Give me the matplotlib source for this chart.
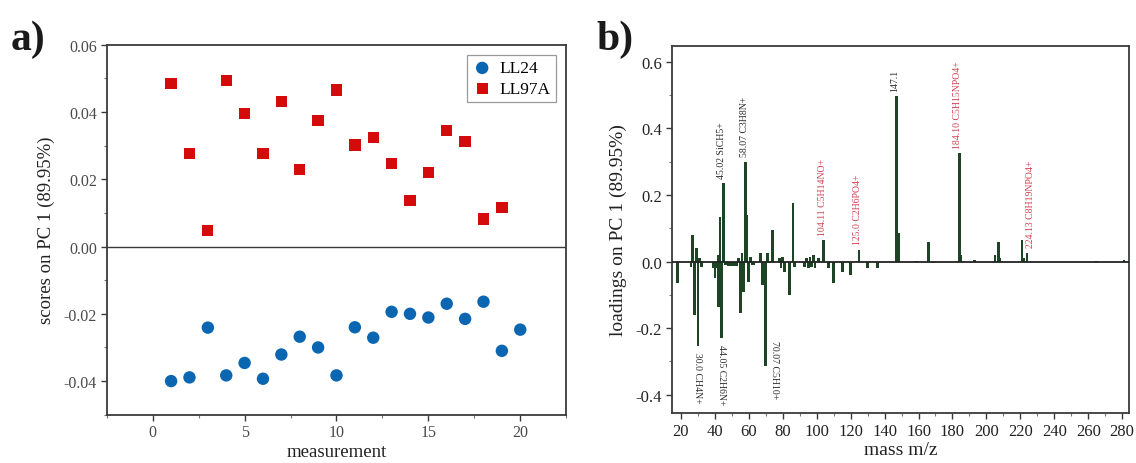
import matplotlib
matplotlib.use("Agg")
import matplotlib.pyplot as plt
from matplotlib.ticker import MultipleLocator, FormatStrFormatter

plt.rcParams['font.family'] = ['Liberation Serif', 'DejaVu Serif']

# ---------------- data: panel a ----------------
meas_ll24 = list(range(1, 21))
scores_ll24 = [-0.0400, -0.0389, -0.0241, -0.0383, -0.0346, -0.0393, -0.0321,
               -0.0268, -0.0300, -0.0383, -0.0240, -0.0271, -0.0194, -0.0200,
               -0.0211, -0.0170, -0.0215, -0.0164, -0.0310, -0.0247]
meas_ll97a = list(range(1, 20))
scores_ll97a = [0.0485, 0.0277, 0.0047, 0.0494, 0.0395, 0.0276, 0.0431, 0.0229,
                0.0375, 0.0465, 0.0302, 0.0324, 0.0247, 0.0137, 0.0220, 0.0345,
                0.0312, 0.0082, 0.0117]

# ---------------- data: panel b ----------------
mass = [18, 26, 27, 28, 29, 30, 31, 32, 39, 40, 41, 42, 42.3, 43, 44, 45, 46,
        47, 48, 49, 50, 51, 52, 53, 54, 55, 56, 57, 58, 59, 60, 61, 62, 63,
        67, 68, 69, 70, 71, 72, 74, 78, 79, 80, 81, 84, 86, 87,
        93, 94, 95, 96, 97, 98, 99, 101, 104, 107, 110, 115, 120, 125, 130,
        136, 147, 148, 159, 166, 169, 184, 185, 193, 205, 207, 208, 221, 222,
        224, 265, 281]
loading = [-0.063, -0.015, 0.080, -0.160, 0.042, -0.255, 0.012, -0.015,
           -0.020, -0.050, -0.020, -0.136, 0.020, 0.135, -0.230, 0.235, -0.010,
           -0.010, -0.012, -0.012, -0.012, -0.013, -0.012, -0.012, 0.010,
           -0.155, 0.025, -0.090, 0.300, 0.140, -0.060, 0.015, -0.010, -0.010,
           0.025, -0.070, -0.070, -0.314, 0.025, -0.005, 0.094, 0.012, -0.020,
           0.015, -0.030, -0.100, 0.175, -0.015,
           -0.015, 0.010, -0.020, 0.015, -0.015, 0.019, -0.020, 0.012, 0.064,
           -0.020, -0.065, -0.030, -0.040, 0.035, -0.020,
           -0.020, 0.497, 0.086, 0.003, 0.058, -0.003, 0.325, 0.020, 0.004,
           0.020, 0.058, 0.010, 0.064, 0.010, 0.027, 0.003, 0.005]

# peak annotations
label_mass = [30, 44, 45, 58, 70, 104, 125, 147, 184, 224]
label_text = ["30.0 CH4N+", "44.05 C2H6N+", "45.02 SiCH5+", "58.07 C3H8N+",
              "70.07 C5H10+", "104.11 C5H14NO+", "125.0 C2H6PO4+", "147.1",
              "184.10 C5H15NPO4+", "224.13 C8H19NPO4+"]
label_red = [False, False, False, False, False, True, True, False, True, True]

BLUE = '#0b66b2'
RED = '#d30b0b'
GREEN = '#1d4424'
SPINE = '#3a3a3a'
LBL_RED = '#d2404f'

fig = plt.figure(figsize=(11.36, 4.64), dpi=100)
axa = fig.add_axes([0.0940, 0.1040, 0.4044, 0.7975])
axb = fig.add_axes([0.5915, 0.1078, 0.4023, 0.791])

# ---------------- panel a ----------------
axa.axhline(0, color=SPINE, lw=1.0, zorder=1)
axa.scatter(meas_ll24, scores_ll24, s=80, marker='o', color=BLUE,
            edgecolors='none', label='LL24', zorder=3)
axa.scatter(meas_ll97a, scores_ll97a, s=66, marker='s', color=RED,
            edgecolors='none', label='LL97A', zorder=3)
axa.set_xlim(-2.5, 22.5)
axa.set_ylim(-0.05, 0.06)
axa.xaxis.set_major_locator(MultipleLocator(5))
axa.xaxis.set_minor_locator(MultipleLocator(2.5))
axa.yaxis.set_major_locator(MultipleLocator(0.02))
axa.yaxis.set_minor_locator(MultipleLocator(0.01))
axa.yaxis.set_major_formatter(FormatStrFormatter('%.2f'))
axa.set_xlabel('measurement', fontsize=13.5, color='#222222', labelpad=2)
axa.set_ylabel('scores on PC 1 (89.95%)', fontsize=13.5, color='#222222',
               labelpad=6)
leg = axa.legend(loc='upper right', fontsize=12.5, frameon=True,
                 fancybox=False, framealpha=1, edgecolor='#9a9a9a',
                 borderpad=0.3, handletextpad=0.4, labelspacing=0.25,
                 borderaxespad=0.6, markerscale=1.0, handlelength=1.2)
leg.get_frame().set_linewidth(0.9)

# ---------------- panel b ----------------
axb.bar(mass, loading, width=1.6, color=GREEN, edgecolor='none', zorder=2)
axb.axhline(0, color='#222222', lw=1.3, zorder=3)
axb.set_xlim(14.7, 284)
axb.set_ylim(-0.455, 0.648)
axb.xaxis.set_major_locator(MultipleLocator(20))
axb.xaxis.set_minor_locator(MultipleLocator(10))
axb.yaxis.set_major_locator(MultipleLocator(0.2))
axb.yaxis.set_minor_locator(MultipleLocator(0.1))
axb.yaxis.set_major_formatter(FormatStrFormatter('%.1f'))
axb.set_xlabel('mass m/z', fontsize=14, color='#222222', labelpad=2)
axb.set_ylabel('loadings on PC 1 (89.95%)', fontsize=14, color='#222222',
               labelpad=6)

lookup = dict(zip(mass, loading))
for m, txt, isred in zip(label_mass, label_text, label_red):
    v = lookup[m]
    col = LBL_RED if isred else '#2a2a2a'
    if m == 70:
        axb.annotate(txt, xy=(m, v), xytext=(6, 19), textcoords='offset points',
                     rotation=-90, ha='center', va='top', fontsize=7, color=col)
    elif m == 224:
        axb.annotate(txt, xy=(m, v), xytext=(2.5, 4), textcoords='offset points',
                     rotation=90, ha='center', va='bottom', fontsize=7,
                     color=col)
    elif v >= 0:
        axb.annotate(txt, xy=(m, v), xytext=(-1, 4), textcoords='offset points',
                     rotation=90, ha='center', va='bottom', fontsize=7,
                     color=col)
    else:
        axb.annotate(txt, xy=(m, v), xytext=(0, -4), textcoords='offset points',
                     rotation=-90, ha='center', va='top', fontsize=7, color=col)

for ax, lblcol, fs in ((axa, '#4a4a4a', 11.5), (axb, '#222222', 12)):
    for sp in ax.spines.values():
        sp.set_color(SPINE)
        sp.set_linewidth(1.3)
    ax.tick_params(which='major', direction='out', length=4, width=1.0,
                   color=SPINE, labelsize=fs, labelcolor=lblcol, pad=3)
    ax.tick_params(which='minor', direction='out', length=2.5, width=0.8,
                   color='#777777')

fig.text(0.009, 0.955, 'a)', fontsize=30, fontweight='bold', va='top',
         ha='left', color='#1a1a1a')
fig.text(0.525, 0.955, 'b)', fontsize=30, fontweight='bold', va='top',
         ha='left', color='#1a1a1a')

fig.savefig('out.png', dpi=100)
